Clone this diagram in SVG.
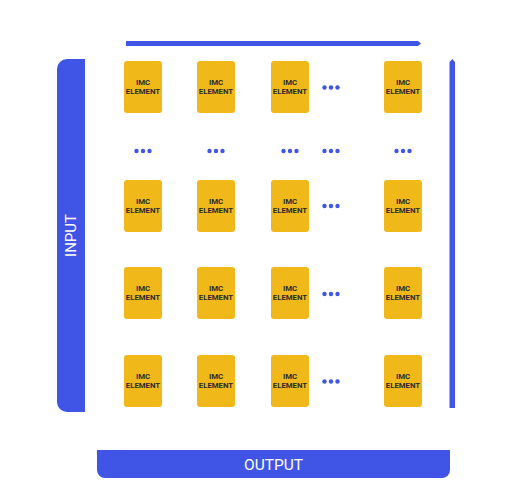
<svg xmlns="http://www.w3.org/2000/svg" width="525" height="500" viewBox="0 0 525 500">
<style>
.bar{fill:#4055e6}
.cell{fill:#f0b919}
.lbl{font-family:Roboto,"Liberation Sans",sans-serif;font-size:7.8px;font-weight:bold;fill:#2b2b2b;text-anchor:middle}
.big{font-family:Roboto,"Liberation Sans",sans-serif;fill:#ffffff;text-anchor:middle}
.dot{fill:#4055e6}
</style>
<defs>
<g id="el">
<rect class="cell" x="-19" y="-26" width="38" height="52" rx="3"/>
<text class="lbl" x="0" y="-1.8">IMC</text>
<text class="lbl" x="0" y="6.8">ELEMENT</text>
</g>
<g id="dots">
<circle class="dot" cx="-6.5" cy="0" r="2.2"/>
<circle class="dot" cx="0" cy="0" r="2.2"/>
<circle class="dot" cx="6.5" cy="0" r="2.2"/>
</g>
</defs>
<rect width="525" height="500" fill="#ffffff"/>
<g id="input">
<path class="bar" d="M85,59 V412 H67 A10,10 0 0 1 57,402 V69 A10,10 0 0 1 67,59 Z"/>
<text class="big" font-size="15" transform="translate(76.3,235.5) rotate(-90)" x="0" y="0">INPUT</text>
</g>
<g id="output">
<path class="bar" d="M97,450 H450 V470 A8,8 0 0 1 442,478 H105 A8,8 0 0 1 97,470 Z"/>
<text class="big" font-size="15.5" x="273.5" y="469.5">OUTPUT</text>
</g>
<g id="connectors">
<path class="bar" d="M126,41 H418 L421,43.5 L418,46 H126 Z"/>
<path class="bar" d="M449.5,62 L452.2,59 L455,62 V408 H449.5 Z"/>
</g>
<g id="r1">
<use href="#el" x="143" y="87"/>
<use href="#el" x="216" y="87"/>
<use href="#el" x="290" y="87"/>
<use href="#dots" x="331" y="87.5"/>
<use href="#el" x="403" y="87"/>
</g>
<g id="rdots">
<use href="#dots" x="143" y="151"/>
<use href="#dots" x="216" y="151"/>
<use href="#dots" x="290" y="151"/>
<use href="#dots" x="331" y="151"/>
<use href="#dots" x="403" y="151"/>
</g>
<g id="r2">
<use href="#el" x="143" y="206"/>
<use href="#el" x="216" y="206"/>
<use href="#el" x="290" y="206"/>
<use href="#dots" x="331" y="206"/>
<use href="#el" x="403" y="206"/>
</g>
<g id="r3">
<use href="#el" x="143" y="293"/>
<use href="#el" x="216" y="293"/>
<use href="#el" x="290" y="293"/>
<use href="#dots" x="331" y="294"/>
<use href="#el" x="403" y="293"/>
</g>
<g id="r4">
<use href="#el" x="143" y="381"/>
<use href="#el" x="216" y="381"/>
<use href="#el" x="290" y="381"/>
<use href="#dots" x="331" y="381.5"/>
<use href="#el" x="403" y="381"/>
</g>
</svg>
